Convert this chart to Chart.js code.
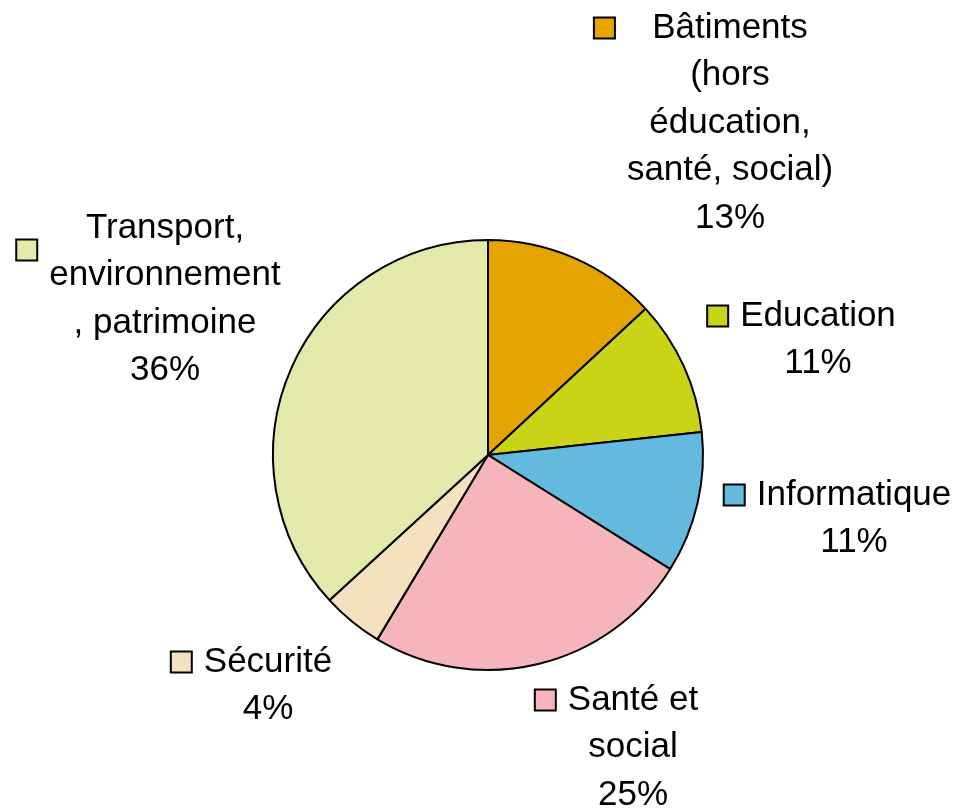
<!DOCTYPE html>
<html lang="fr">
<head>
  <meta charset="UTF-8">
  <title>Répartition</title>
  <script src="https://cdn.jsdelivr.net/npm/chart.js"></script>
  <style>
    html, body { margin: 0; padding: 0; background: #ffffff; }
    #wrap { width: 958px; height: 810px; }
  </style>
</head>
<body>
  <div id="wrap"><canvas id="pie" width="958" height="810"></canvas></div>

  <script>
    // données
    const categories = [
      ['Bâtiments', '(hors', 'éducation,', 'santé, social)'],
      ['Education'],
      ['Informatique'],
      ['Santé et', 'social'],
      ['Sécurité'],
      ['Transport,', 'environnement', ', patrimoine']
    ];
    // parts mesurées sur les secteurs dessinés
    const valeurs = [13.1, 10.2, 10.6, 24.7, 4.6, 36.8];
    // pourcentages affichés
    const pourcentages = ['13%', '11%', '11%', '25%', '4%', '36%'];
    const couleurs = ['#e5a400', '#c9d416', '#64b9de', '#f6b5ba', '#f3e1c0', '#e3e9ab'];

    // placement des étiquettes (décalage par rapport au centre du camembert)
    const placement = [
      { dx: 242, dy: -427, keyDy: 0 },
      { dx: 330, dy: -139, keyDy: 0 },
      { dx: 366, dy: 40, keyDy: 0 },
      { dx: 145, dy: 245, keyDy: 0 },
      { dx: -220, dy: 207, keyDy: 0 },
      { dx: -323, dy: -227, keyDy: 22 }
    ];

    const etiquettes = {
      id: 'etiquettes',
      afterDraw(chart) {
        const c = chart.ctx;
        const arcs = chart.getDatasetMeta(0).data;
        const lh = 47.5;
        c.save();
        c.font = '35px "Liberation Sans", Arial, sans-serif';
        c.fillStyle = '#000';
        c.textAlign = 'center';
        c.textBaseline = 'middle';
        arcs.forEach((arc, i) => {
          const p = placement[i];
          const x = arc.x + p.dx;
          const y0 = arc.y + p.dy;
          const lignes = categories[i].concat([pourcentages[i]]);
          let largeur = 0;
          lignes.forEach(l => { largeur = Math.max(largeur, c.measureText(l).width); });
          lignes.forEach((l, k) => c.fillText(l, x, y0 + k * lh));
          // carré de légende
          const s = 21;
          const kx = x - largeur / 2 - 12 - s;
          const ky = y0 + p.keyDy - s / 2;
          c.fillStyle = couleurs[i];
          c.fillRect(kx, ky, s, s);
          c.lineWidth = 2;
          c.strokeStyle = '#000';
          c.strokeRect(kx, ky, s, s);
          c.fillStyle = '#000';
        });
        c.restore();
      }
    };

    new Chart(document.getElementById('pie'), {
      type: 'pie',
      data: {
        labels: categories,
        datasets: [{
          data: valeurs,
          backgroundColor: couleurs,
          borderColor: '#000',
          borderWidth: 2
        }]
      },
      options: {
        responsive: false,
        animation: false,
        devicePixelRatio: 1,
        layout: { padding: { top: 239, bottom: 139, left: 272, right: 254 } },
        plugins: {
          legend: { display: false },
          tooltip: { enabled: false }
        }
      },
      plugins: [etiquettes]
    });
  </script>
</body>
</html>
